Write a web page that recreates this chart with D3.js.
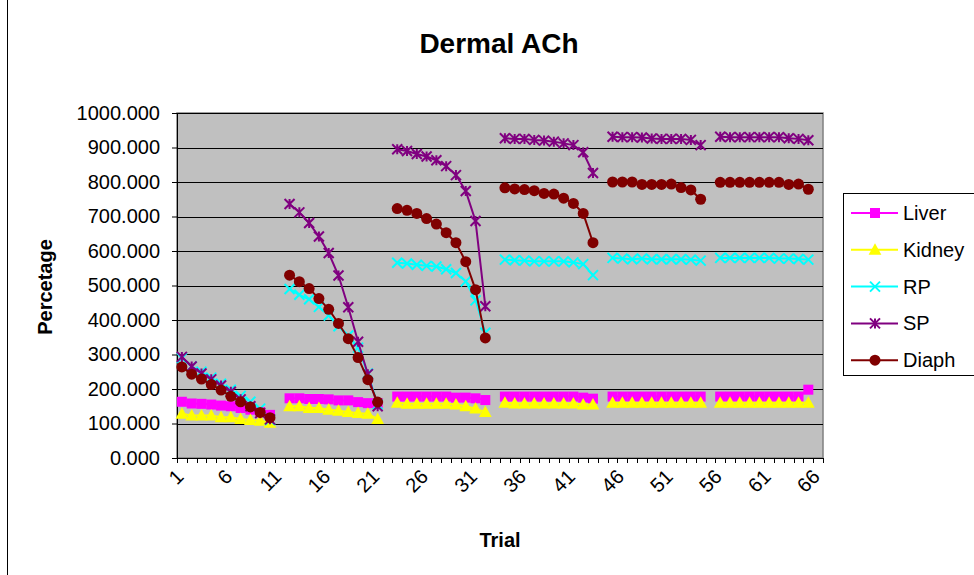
<!DOCTYPE html>
<html><head><meta charset="utf-8">
<script src="https://cdn.jsdelivr.net/npm/d3@7"></script>
<style>body{margin:0;background:#fff}svg{display:block}text{font-family:"Liberation Sans",Arial,sans-serif}</style>
</head><body><svg id="c" width="974" height="575"></svg>
<script>
const trials = [1,2,3,4,5,6,7,8,9,10,11,12,13,14,15,16,17,18,19,20,21,22,23,24,25,26,27,28,29,30,31,32,33,34,35,36,37,38,39,40,41,42,43,44,45,46,47,48,49,50,51,52,53,54,55,56,57,58,59,60,61,62,63,64,65,66];
const tickLabels = [1,6,11,16,21,26,31,36,41,46,51,56,61,66];
const yTicks = [0,100,200,300,400,500,600,700,800,900,1000];
const liver = [163,158,157,155,152,150,145,140,133,125,null,
  173,173,171,171,170,167,167,162,159,159,null,
  178,178,178,178,178,178,175,175,173,168,null,
  178,178,178,178,178,178,178,178,175,172,null,
  178,178,178,178,178,178,178,178,178,178,null,
  178,178,178,178,178,178,178,178,178,198,null];
const kidney = [128,123,123,123,118,118,113,110,108,102,null,
  150,150,145,145,140,137,133,130,128,113,null,
  160,157,157,157,157,157,155,150,143,133,null,
  160,158,158,158,158,158,158,158,155,155,null,
  160,160,160,160,160,160,160,160,160,160,null,
  160,160,160,160,160,160,160,160,160,160,null];
const rp = [290,265,250,233,215,198,180,163,143,110,null,
  490,473,460,438,413,382,355,320,245,155,null,
  566,564,560,557,555,547,536,512,457,363,null,
  575,573,572,570,570,570,570,567,562,530,null,
  580,578,576,578,576,576,576,576,575,572,null,
  580,580,580,580,580,580,578,578,577,575,null];
const sp = [293,265,245,228,210,192,170,150,130,112,null,
  736,712,681,642,594,529,437,337,243,150,null,
  895,890,881,874,863,846,820,774,687,440,null,
  927,925,925,922,920,917,912,907,886,826,null,
  931,930,930,929,926,925,925,925,922,907,null,
  931,930,930,930,930,930,930,927,925,921,null];
const diaph = [264,243,229,213,197,179,163,148,132,117,null,
  530,511,491,462,431,390,346,291,227,162,null,
  723,718,709,694,678,653,624,569,488,348,null,
  783,780,778,775,767,765,753,738,709,624,null,
  800,800,800,793,793,793,794,784,777,750,null,
  799,799,799,799,799,799,799,793,794,779,null];
const seriesNames = ["Liver","Kidney","RP","SP","Diaph"];
const seriesColors = ["#FF00FF","#FFFF00","#00FFFF","#800080","#800000"];
const seriesMarkers = ["square","triangle","x","star","circle"];
const seriesValues = [liver,kidney,rp,sp,diaph];

const svg = d3.select("#c");
const L=177,R=823,T=113,B=458;
const x = d3.scaleBand().domain(trials).range([L,R]).padding(0);
const y = d3.scaleLinear().domain([0,1000]).range([B,T]);
const cx = d => x(d)+x.bandwidth()/2;

// outer border (left edge only visible)
svg.append("line").attr("x1",7.5).attr("x2",7.5).attr("y1",0).attr("y2",575).attr("stroke","#000");

// plot area
svg.append("rect").attr("x",L).attr("y",T).attr("width",R-L).attr("height",B-T).attr("fill","#C0C0C0").attr("stroke","#808080").attr("stroke-width",1.5);
svg.append("g").selectAll("line").data(yTicks.filter(v=>v>0)).join("line")
  .attr("x1",L).attr("x2",R).attr("y1",d=>Math.round(y(d))+0.5).attr("y2",d=>Math.round(y(d))+0.5)
  .attr("stroke","#000").attr("stroke-width",1.2);

// y axis
const yAxis = d3.axisLeft(y).tickValues(yTicks).tickSize(5).tickPadding(4).tickFormat(d3.format(".3f"));
const gy = svg.append("g").attr("transform",`translate(${L},0)`).call(yAxis);
gy.selectAll("text").attr("font-size",20).attr("fill","#000").attr("dx",-8);
gy.select(".domain").attr("stroke","#000");
gy.selectAll(".tick line").attr("stroke","#000");

// x axis
const gx = svg.append("g").attr("transform",`translate(0,${B})`);
gx.append("line").attr("x1",L).attr("x2",R).attr("y1",0.5).attr("y2",0.5).attr("stroke","#000");
const bounds = trials.map(t=>x(t)).concat([R]);
gx.selectAll("line.tk").data(bounds).join("line").attr("class","tk")
  .attr("x1",d=>Math.round(d)+0.5).attr("x2",d=>Math.round(d)+0.5).attr("y1",0).attr("y2",5).attr("stroke","#000");
gx.selectAll("text").data(tickLabels).join("text")
  .attr("transform",d=>`translate(${cx(d)-7},${10}) rotate(-45)`)
  .attr("text-anchor","end").attr("dy","0.7em").attr("font-size",20).text(d=>d);

// series
const line = d3.line().defined(d=>d.v!=null).x(d=>cx(d.t)).y(d=>y(d.v));
function marker(g, type, color, px, py, s){
  if(type==="square") g.append("rect").attr("x",px-s/2).attr("y",py-s/2).attr("width",s).attr("height",s).attr("fill",color);
  else if(type==="triangle") g.append("path").attr("d",`M${px},${py-s*0.6}L${px+s*0.58},${py+s*0.45}L${px-s*0.58},${py+s*0.45}Z`).attr("fill",color);
  else if(type==="circle") g.append("circle").attr("cx",px).attr("cy",py).attr("r",s/2).attr("fill",color);
  else if(type==="x") g.append("path").attr("d",`M${px-s/2},${py-s/2}L${px+s/2},${py+s/2}M${px-s/2},${py+s/2}L${px+s/2},${py-s/2}`).attr("stroke",color).attr("stroke-width",2).attr("fill","none");
  else if(type==="star") g.append("path").attr("d",`M${px-s/2},${py-s/2}L${px+s/2},${py+s/2}M${px-s/2},${py+s/2}L${px+s/2},${py-s/2}M${px},${py-s/2}L${px},${py+s/2}`).attr("stroke",color).attr("stroke-width",2).attr("fill","none");
}
seriesValues.forEach((vals,i)=>{
  const pts = trials.map((t,j)=>({t, v: vals[j]}));
  const g = svg.append("g");
  g.append("path").datum(pts).attr("d",line).attr("fill","none").attr("stroke",seriesColors[i]).attr("stroke-width",2);
  pts.filter(p=>p.v!=null).forEach(p=>marker(g, seriesMarkers[i], seriesColors[i], cx(p.t), y(p.v), seriesMarkers[i]==="triangle"?11:(seriesMarkers[i]==="circle"?11:10)));
});

// title
svg.append("text").attr("x",499).attr("y",53).attr("text-anchor","middle").attr("font-size",28).attr("font-weight","bold").text("Dermal ACh");
svg.append("text").attr("x",500).attr("y",547).attr("text-anchor","middle").attr("font-size",20).attr("font-weight","bold").text("Trial");
svg.append("text").attr("transform","translate(52,287) rotate(-90)").attr("text-anchor","middle").attr("font-size",20).attr("font-weight","bold").text("Percetage");

// legend
const lg = svg.append("g");
lg.append("rect").attr("x",843.5).attr("y",193.5).attr("width",131).attr("height",182).attr("fill","#fff").attr("stroke","#000");
seriesNames.forEach((n,i)=>{
  const ly = 213 + i*36.8;
  lg.append("line").attr("x1",851).attr("x2",898).attr("y1",ly).attr("y2",ly).attr("stroke",seriesColors[i]).attr("stroke-width",2);
  marker(lg, seriesMarkers[i], seriesColors[i], 875, ly, seriesMarkers[i]==="triangle"?11:(seriesMarkers[i]==="circle"?11:10));
  lg.append("text").attr("x",903).attr("y",ly+7).attr("font-size",20).text(n);
});
</script></body></html>
